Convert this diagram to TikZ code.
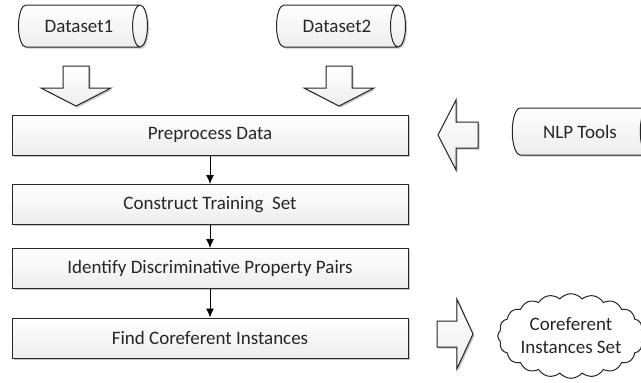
\documentclass[tikz,border=0pt]{standalone}
\usepackage{fontspec}
\setmainfont{Carlito}
\usetikzlibrary{shapes.geometric,shapes.symbols,shadows,arrows.meta}
\tikzset{
  boxshade/.style={top color=white, bottom color=gray!14,
    drop shadow={shadow xshift=1.6pt, shadow yshift=-1.6pt, fill=gray!55, opacity=0.8}},
  stepbox/.style={boxshade, draw=black!85, line width=1pt,
    minimum width=396pt, minimum height=40pt, inner sep=0pt},
  datastore/.style={cylinder, boxshade, draw=black!85, line width=1pt,
    shape border rotate=0, aspect=1.2, inner sep=0pt,
    minimum width=42pt, minimum height=129pt},
  result/.style={cloud, cloud puffs=20, cloud puff arc=100, aspect=1.9,
    draw=black!85, line width=1pt, fill=white, minimum width=136pt,
    minimum height=70pt, align=center, inner sep=0pt},
  flow/.style={-{Latex[length=9pt,width=8pt]}, line width=0.9pt},
  fatarrow/.pic={
    \filldraw[boxshade, draw=black!85, line width=1pt]
      (-13,0) -- (13,0) -- (13,22) -- (35,22) -- (0,40)
      -- (-35,22) -- (-13,22) -- cycle;}
}
\begin{document}
\begin{tikzpicture}[x=1pt, y=-1pt, font=\fontsize{19pt}{23pt}\selectfont, text=black!85]
  \useasboundingbox (0,0) rectangle (641,383);
  % sources
  \node[datastore] (ds1) at (79,26) {Dataset1};
  \node[datastore] (ds2) at (337,26) {Dataset2};
  \node[datastore, minimum width=47pt, minimum height=144pt] (nlp) at (580,131.5) {NLP Tools};
  % steps
  \node[stepbox] (prep)  at (210,135)   {Preprocess Data};
  \node[stepbox] (train) at (210,204.5) {Construct Training\ \ Set};
  \node[stepbox] (ident) at (210,268.5) {Identify Discriminative Property Pairs};
  \node[stepbox] (find)  at (210,338)   {Find Coreferent Instances};
  % output
  \node[result] (coref) at (571,336) {Coreferent\\Instances Set};
  % block arrows
  \pic at (76,66) {fatarrow};
  \pic at (339,66) {fatarrow};
  \pic[rotate=-90] at (478,135) {fatarrow};
  \pic[rotate=90, yscale=0.9] at (437,334) {fatarrow};
  % flow
  \draw[flow] (prep) -- (train);
  \draw[flow] (train) -- (ident);
  \draw[flow] (ident) -- (find);
\end{tikzpicture}
\end{document}
